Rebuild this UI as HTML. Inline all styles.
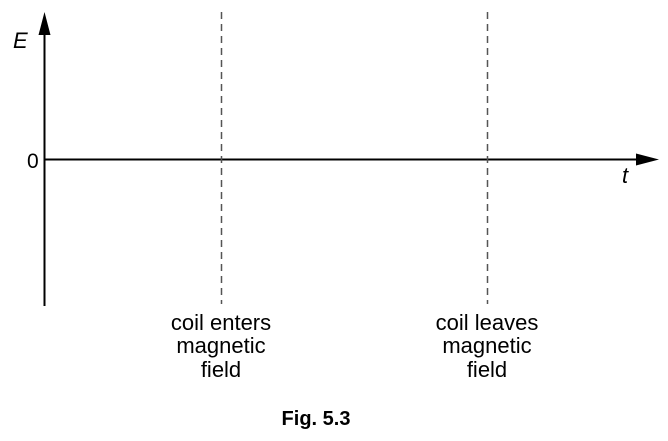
<!DOCTYPE html>
<html><head><meta charset="utf-8"><style>
html,body{margin:0;padding:0;background:#fff;}
svg{display:block;font-family:"Liberation Sans",Arial,sans-serif;}
</style></head><body>
<svg width="668" height="441" viewBox="0 0 668 441">
<line x1="44.5" y1="30" x2="44.5" y2="306" stroke="#000" stroke-width="2"/>
<polygon points="44.5,12 38.5,35 50.5,35" fill="#000"/>
<line x1="44" y1="159.5" x2="640" y2="159.5" stroke="#000" stroke-width="2"/>
<polygon points="659,159.5 636,153.5 636,165.5" fill="#000"/>
<text x="13" y="48" font-size="22" font-style="italic">E</text>
<text x="27" y="168" font-size="21">0</text>
<text x="622" y="183" font-size="22" font-style="italic">t</text>
<line x1="221.5" y1="12" x2="221.5" y2="304" stroke="#555" stroke-width="1.5" stroke-dasharray="7,5"/>
<line x1="487.5" y1="12" x2="487.5" y2="304" stroke="#555" stroke-width="1.5" stroke-dasharray="7,5"/>
<g font-size="22" text-anchor="middle">
<text x="221" y="330">coil enters</text><text x="221" y="353">magnetic</text><text x="221" y="377">field</text></g>
<g font-size="22" text-anchor="middle">
<text x="487" y="330">coil leaves</text><text x="487" y="353">magnetic</text><text x="487" y="377">field</text></g>
<text x="316" y="425" font-size="20" font-weight="bold" text-anchor="middle">Fig. 5.3</text>
</svg>
</body></html>
